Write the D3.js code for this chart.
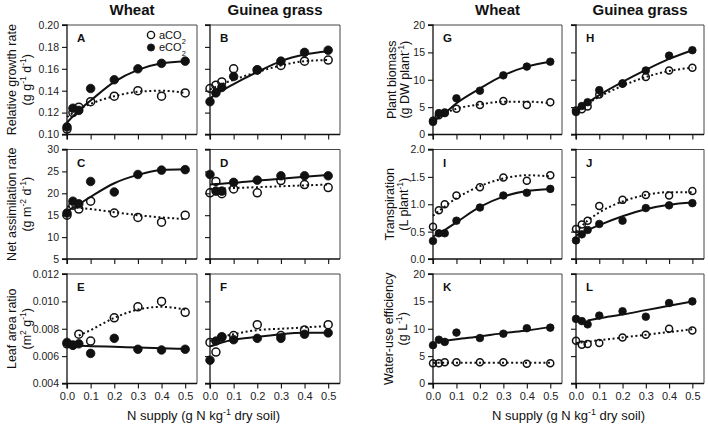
<!DOCTYPE html>
<html><head><meta charset="utf-8">
<script src="https://cdn.jsdelivr.net/npm/d3@7"></script>
<style>
html,body{margin:0;padding:0;background:#fff;}
svg{display:block;font-family:"Liberation Sans",Arial,Helvetica,sans-serif;}
</style></head>
<body><svg id="c" width="708" height="427"></svg>
<script>
// ---------------- data ----------------
const nSupply = [0, 0.025, 0.05, 0.1, 0.2, 0.3, 0.4, 0.5];
const fitN    = [0, 0.05, 0.1, 0.2, 0.3, 0.4, 0.5];
const crops = ["Wheat", "Guinea grass"];
const xTicks = [0, 0.1, 0.2, 0.3, 0.4, 0.5];

// Relative growth rate (g g-1 d-1)
const rgrWheatA = [0.105, 0.120, 0.125, 0.130, 0.135, 0.140, 0.135, 0.138];
const rgrWheatE = [0.107, 0.124, 0.122, 0.142, 0.150, 0.160, 0.165, 0.167];
const rgrWheatFitA = [0.116, 0.123, 0.128, 0.135, 0.139, 0.140, 0.138];
const rgrWheatFitE = [0.111, 0.122, 0.131, 0.148, 0.159, 0.165, 0.167];
const rgrGrassA = [0.142, 0.145, 0.148, 0.160, 0.159, 0.163, 0.167, 0.168];
const rgrGrassE = [0.130, 0.138, 0.143, 0.153, 0.159, 0.167, 0.175, 0.177];
const rgrGrassFitA = [0.141, 0.146, 0.150, 0.157, 0.163, 0.167, 0.168];
const rgrGrassFitE = [0.133, 0.140, 0.146, 0.157, 0.167, 0.173, 0.176];
const rgrTicks = [0.10, 0.12, 0.14, 0.16, 0.18, 0.20];

// Net assimilation rate (g m-2 d-1)
const narWheatA = [15.0, 17.3, 16.4, 18.2, 15.5, 14.5, 13.4, 15.0];
const narWheatE = [15.5, 18.2, 17.6, 22.7, 20.3, 24.3, 25.3, 25.4];
const narWheatFitA = [17.0, 16.7, 16.4, 15.7, 15.0, 14.5, 14.1];
const narWheatFitE = [15.9, 17.5, 19.2, 22.3, 24.2, 25.3, 25.5];
const narGrassA = [20.1, 22.7, 19.9, 21.0, 20.1, 22.9, 22.0, 21.3];
const narGrassE = [24.3, 20.5, 20.5, 22.5, 23.0, 24.0, 24.0, 24.0];
const narGrassFitA = [21.0, 21.1, 21.2, 21.4, 21.6, 21.8, 22.0];
const narGrassFitE = [22.0, 22.2, 22.4, 22.9, 23.3, 23.8, 24.2];
const narTicks = [5, 10, 15, 20, 25, 30];

// Leaf area ratio (m2 g-1)
const larWheatA = [0.0069, 0.0068, 0.0076, 0.0071, 0.0088, 0.0096, 0.0100, 0.0092];
const larWheatE = [0.0070, 0.0068, 0.0069, 0.0062, 0.0073, 0.0065, 0.00645, 0.0065];
const larWheatFitA = [null, 0.0075, 0.0079, 0.0088, 0.0094, 0.0096, 0.0094];
const larWheatFitE = [0.00678, 0.00675, 0.00673, 0.00668, 0.00663, 0.00658, 0.00653];
const larGrassA = [0.0070, 0.0063, 0.0074, 0.0075, 0.0083, 0.0075, 0.0079, 0.0083];
const larGrassE = [0.0057, 0.0071, 0.0074, 0.0072, 0.0073, 0.0073, 0.0076, 0.0077];
const larGrassFitA = [0.0071, 0.0074, 0.0076, 0.0079, 0.0080, 0.0081, 0.0082];
const larGrassFitE = [0.0067, 0.0070, 0.0072, 0.0074, 0.0076, 0.0077, 0.0077];
const larTicks = [0.004, 0.006, 0.008, 0.010, 0.012];

// Plant biomass (g DW plant-1)
const bioWheatA = [2.5, 3.5, 4.0, 4.7, 5.4, 6.1, 5.4, 5.9];
const bioWheatE = [2.3, 3.9, 3.9, 6.6, 8.0, 10.8, 12.4, 13.3];
const bioWheatFitA = [3.0, 3.9, 4.7, 5.5, 6.0, 6.0, 5.7];
const bioWheatFitE = [2.4, 3.9, 5.7, 8.4, 10.8, 12.4, 13.3];
const bioGrassA = [4.4, 4.6, 5.1, 7.3, 9.3, 10.5, 11.7, 12.2];
const bioGrassE = [4.1, 5.2, 5.9, 8.1, 9.3, 11.7, 14.4, 15.4];
const bioGrassFitA = [4.5, 5.7, 6.9, 8.9, 10.5, 11.6, 12.2];
const bioGrassFitE = [4.2, 5.8, 7.2, 9.6, 11.8, 13.8, 15.4];
const bioTicks = [0, 5, 10, 15, 20];

// Transpiration (L plant-1)
const trWheatA = [0.59, 0.89, 1.00, 1.16, 1.31, 1.49, 1.43, 1.53];
const trWheatE = [0.33, 0.47, 0.47, 0.70, 0.94, 1.16, 1.21, 1.28];
const trWheatFitA = [0.79, 0.96, 1.11, 1.33, 1.47, 1.53, 1.51];
const trWheatFitE = [0.41, 0.53, 0.67, 0.95, 1.14, 1.24, 1.28];
const trGrassA = [0.55, 0.63, 0.70, 0.97, 1.08, 1.17, 1.16, 1.24];
const trGrassE = [0.34, 0.45, 0.53, 0.64, 0.70, 0.93, 0.98, 1.02];
const trGrassFitA = [0.50, 0.70, 0.85, 1.05, 1.17, 1.22, 1.22];
const trGrassFitE = [0.43, 0.53, 0.62, 0.78, 0.91, 0.99, 1.03];
const trTicks = [0, 0.5, 1.0, 1.5, 2.0];

// Water-use efficiency (g L-1)
const wueWheatA = [3.7, 3.7, 3.9, 3.9, 3.9, 3.9, 3.6, 3.7];
const wueWheatE = [7.0, 8.0, 7.6, 9.3, 8.3, 9.1, 10.1, 10.2];
const wueWheatFitA = [3.8, 3.8, 3.8, 3.8, 3.8, 3.8, 3.8];
const wueWheatFitE = [null, 7.8, 8.1, 8.6, 9.2, 9.7, 10.3];
const wueGrassA = [7.8, 7.1, 7.2, 7.4, 8.4, 8.9, 10.0, 9.7];
const wueGrassE = [11.8, 11.4, 10.8, 12.4, 13.2, 12.2, 14.7, 15.0];
const wueGrassFitA = [7.4, 7.65, 7.9, 8.4, 8.9, 9.4, 9.9];
const wueGrassFitE = [null, 11.5, 11.9, 12.6, 13.4, 14.2, 15.0];
const wueTicks = [0, 5, 10, 15, 20];

// ---------------- layout ----------------
const groupCols = [[[67,197],[210,340]], [[433,562],[576,704]]];
const rowTops = [25, 149.5, 274];
const rowH = 109.5;

const variables = [
  {g:0,row:0,letters:["A","B"],ticks:rgrTicks,fmt:d3.format(".2f"),lab:["Relative growth rate",[["(g g",""],["-1","sup"],[" d",""],["-1","sup"],[")",""]]],lx:[12,27],
   sets:[[rgrWheatA,rgrWheatE,rgrWheatFitA,rgrWheatFitE],[rgrGrassA,rgrGrassE,rgrGrassFitA,rgrGrassFitE]]},
  {g:0,row:1,letters:["C","D"],ticks:narTicks,fmt:d3.format("d"),lab:["Net assimilation rate",[["(g m",""],["-2","sup"],[" d",""],["-1","sup"],[")",""]]],lx:[12,27],
   sets:[[narWheatA,narWheatE,narWheatFitA,narWheatFitE],[narGrassA,narGrassE,narGrassFitA,narGrassFitE]]},
  {g:0,row:2,letters:["E","F"],ticks:larTicks,fmt:d3.format(".3f"),lab:["Leaf area ratio",[["(m",""],["2","sup"],[" g",""],["-1","sup"],[")",""]]],lx:[12,27],
   sets:[[larWheatA,larWheatE,larWheatFitA,larWheatFitE],[larGrassA,larGrassE,larGrassFitA,larGrassFitE]]},
  {g:1,row:0,letters:["G","H"],ticks:bioTicks,fmt:d3.format("d"),lab:["Plant biomass",[["(g DW plant",""],["-1","sup"],[")",""]]],lx:[392,405],
   sets:[[bioWheatA,bioWheatE,bioWheatFitA,bioWheatFitE],[bioGrassA,bioGrassE,bioGrassFitA,bioGrassFitE]]},
  {g:1,row:1,letters:["I","J"],ticks:trTicks,fmt:d3.format(".1f"),lab:["Transpiration",[["(L plant",""],["-1","sup"],[")",""]]],lx:[390,404],
   sets:[[trWheatA,trWheatE,trWheatFitA,trWheatFitE],[trGrassA,trGrassE,trGrassFitA,trGrassFitE]]},
  {g:1,row:2,letters:["K","L"],ticks:wueTicks,fmt:d3.format("d"),lab:["Water-use efficiency",[["(g L",""],["-1","sup"],[")",""]]],lx:[389,403],
   sets:[[wueWheatA,wueWheatE,wueWheatFitA,wueWheatFitE],[wueGrassA,wueGrassE,wueGrassFitA,wueGrassFitE]]}
];

const svg = d3.select("#c");
const ink = "#111";

function addRich(sel, parts, fs){
  parts.forEach(([t,kind])=>{
    const ts = sel.append("tspan").text(t);
    if(kind==="sup"){ ts.attr("baseline-shift","super").attr("font-size",fs*0.68); }
    if(kind==="sub"){ ts.attr("baseline-shift","sub").attr("font-size",fs*0.68); }
  });
}

variables.forEach(v=>{
  const top = rowTops[v.row], bot = top + rowH;
  const y = d3.scaleLinear().domain([v.ticks[0], v.ticks[v.ticks.length-1]]).range([bot, top]);
  const r = v.g===0 ? 4.3 : 3.8;
  // y label
  const yc = (top+bot)/2;
  svg.append("text").attr("transform",`translate(${v.lx[0]},${yc}) rotate(-90)`)
    .attr("text-anchor","middle").attr("dy","0.35em").attr("font-size",12.5).attr("fill",ink).text(v.lab[0]);
  const t2 = svg.append("text").attr("transform",`translate(${v.lx[1]},${yc}) rotate(-90)`)
    .attr("text-anchor","middle").attr("dy","0.35em").attr("font-size",12.5).attr("fill",ink);
  addRich(t2, v.lab[1], 12.5);

  [0,1].forEach(ci=>{
    const [x0,x1] = groupCols[v.g][ci];
    const x = d3.scaleLinear().domain([0,0.55]).range([x0,x1]);
    const gp = svg.append("g");
    // frame top/right
    gp.append("path").attr("d",`M${x0},${top}H${x1}V${bot}`).attr("fill","none").attr("stroke","#444").attr("stroke-width",1);
    // axes
    const ya = d3.axisLeft(y).tickValues(v.ticks).tickSize(5).tickPadding(3).tickFormat(ci===0 ? v.fmt : ()=>"");
    const yg = gp.append("g").attr("transform",`translate(${x0},0)`).call(ya);
    const xa = d3.axisBottom(x).tickValues(xTicks).tickSize(5).tickPadding(4).tickFormat(v.row===2 ? d3.format(".1f") : ()=>"");
    const xg = gp.append("g").attr("transform",`translate(0,${bot})`).call(xa);
    [yg,xg].forEach(g=>{
      g.select(".domain").attr("stroke",ink).attr("stroke-width",1.3);
      g.selectAll(".tick line").attr("stroke",ink).attr("stroke-width",1.1);
      g.selectAll(".tick text").attr("font-size",10.5).attr("fill","#222").attr("font-family",null);
    });
    xg.selectAll(".tick text").attr("font-size",11);
    yg.select(".domain").attr("d",`M-5,${y.range()[0]}H0V${y.range()[1]}H-5`);
    xg.select(".domain").attr("d",`M${x0},5V0H${x1}`);

    // panel letter
    gp.append("text").attr("x",x0+10).attr("y",top+17).attr("font-size",11.5).attr("font-weight","bold").attr("fill",ink).text(v.letters[ci]);

    const [aVals,eVals,aFit,eFit] = v.sets[ci];
    const line = d3.line().defined(d=>d[1]!==null).x(d=>x(d[0])).y(d=>y(d[1])).curve(d3.curveMonotoneX);
    gp.append("path").datum(fitN.map((n,i)=>[n,aFit[i]])).attr("d",line)
      .attr("fill","none").attr("stroke",ink).attr("stroke-width",2).attr("stroke-dasharray","2,2.6");
    gp.append("path").datum(fitN.map((n,i)=>[n,eFit[i]])).attr("d",line)
      .attr("fill","none").attr("stroke",ink).attr("stroke-width",2);
    gp.selectAll("circle.a").data(nSupply.map((n,i)=>[n,aVals[i]])).join("circle").attr("class","a")
      .attr("cx",d=>x(d[0])).attr("cy",d=>y(d[1])).attr("r",r-0.3)
      .attr("fill","none").attr("stroke",ink).attr("stroke-width",1.5);
    gp.selectAll("circle.e").data(nSupply.map((n,i)=>[n,eVals[i]])).join("circle").attr("class","e")
      .attr("cx",d=>x(d[0])).attr("cy",d=>y(d[1])).attr("r",r)
      .attr("fill",ink).attr("stroke",ink).attr("stroke-width",0.8);
  });
});

// crop titles
[0,1].forEach(g=>{
  [0,1].forEach(ci=>{
    const [x0,x1] = groupCols[g][ci];
    svg.append("text").attr("x",(x0+x1)/2).attr("y",15).attr("text-anchor","middle")
      .attr("font-size",15).attr("font-weight","bold").attr("fill",ink).text(crops[ci]);
  });
  const xl = svg.append("text").attr("x",(groupCols[g][0][0]+groupCols[g][1][1])/2).attr("y",420)
    .attr("text-anchor","middle").attr("font-size",13).attr("fill",ink);
  addRich(xl, [["N supply (g N kg",""],["-1","sup"],[" dry soil)",""]], 13);
});

// legend (panel A)
const legendItems = [["a","open"],["e","filled"]];
legendItems.forEach(([p,kind],i)=>{
  const ly = 35 + i*12.5;
  svg.append("circle").attr("cx",151).attr("cy",ly).attr("r",3.6)
    .attr("fill",kind==="open"?"none":ink).attr("stroke",ink).attr("stroke-width",kind==="open"?1.4:0.8);
  const t = svg.append("text").attr("x",159).attr("y",ly).attr("dy","0.35em").attr("font-size",11).attr("fill",ink);
  addRich(t, [[p+"CO",""],["2","sub"]], 11);
});
</script>
</body></html>
